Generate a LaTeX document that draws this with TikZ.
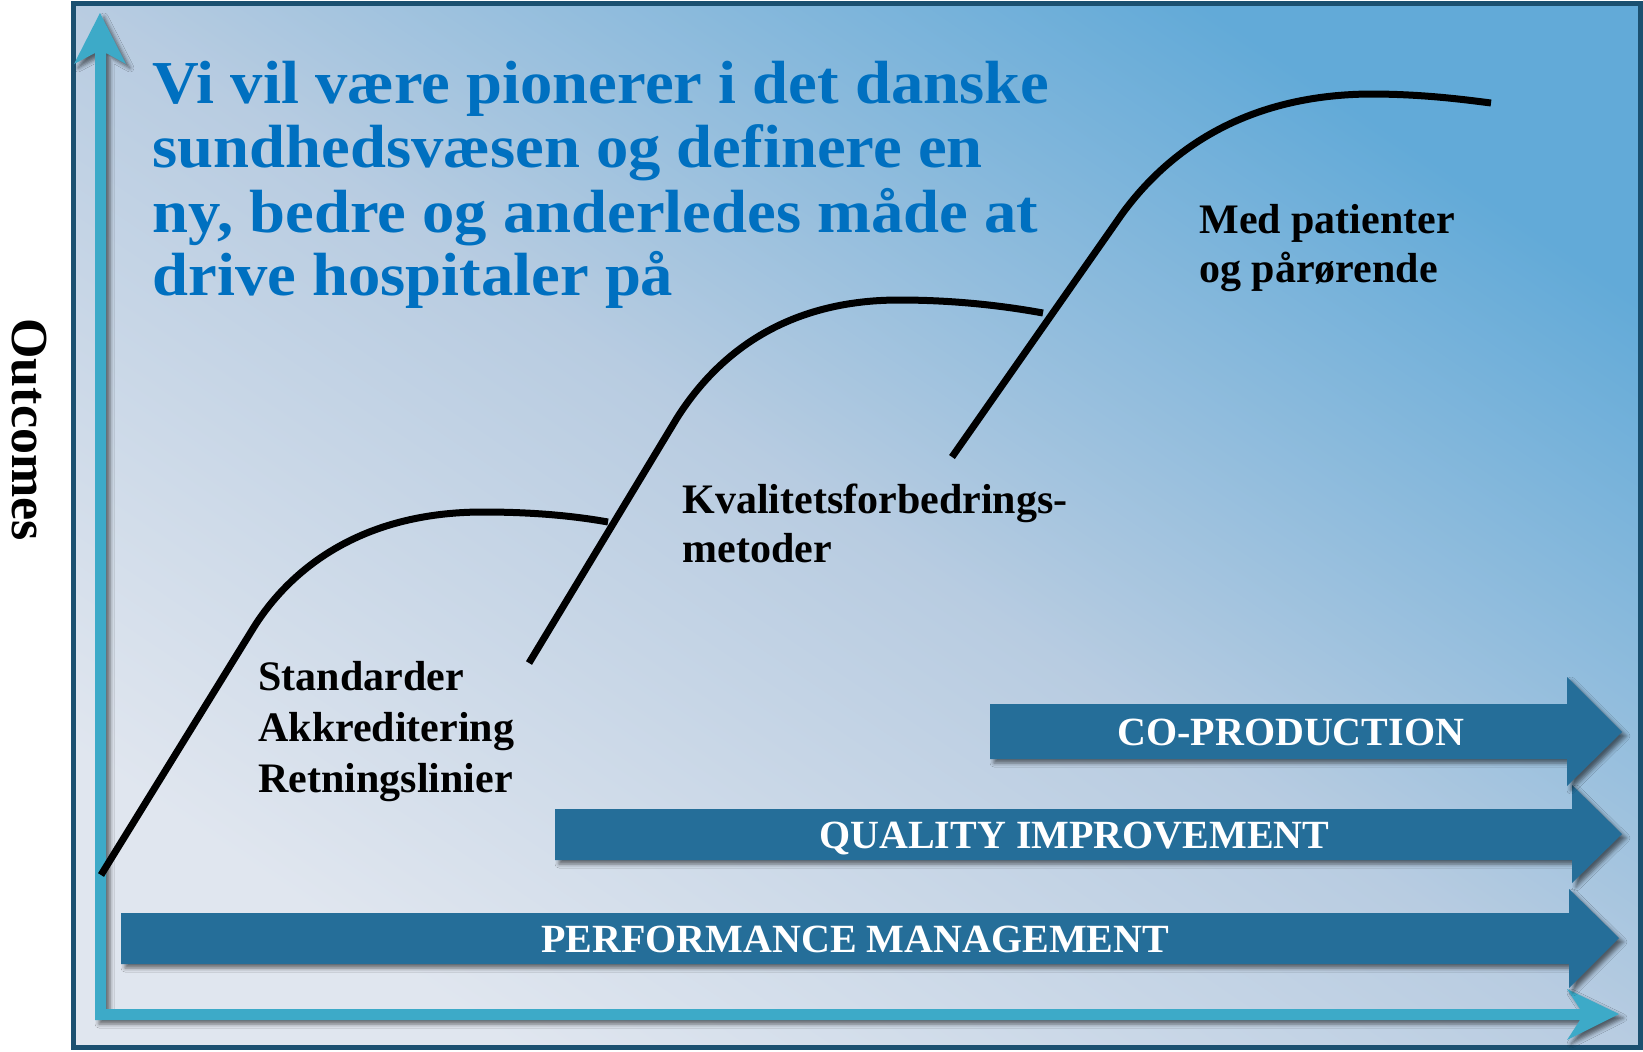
\documentclass[tikz,border=0pt]{standalone}
\usepackage{fontspec}
\setmainfont{Liberation Serif}
\newfontfamily\headfont{Liberation Serif}[FakeStretch=1.06]
\usetikzlibrary{shadows.blur}
\definecolor{axiscol}{RGB}{61,170,200}
\definecolor{arrowcol}{RGB}{37,110,153}
\definecolor{framecol}{RGB}{27,80,112}
\definecolor{headcol}{RGB}{0,112,192}
\definecolor{bglight}{RGB}{224,230,239}
\definecolor{bgmid}{RGB}{184,204,225}
\definecolor{bgdark}{RGB}{98,170,216}
\begin{document}
\begin{tikzpicture}[x=0.5pt,y=-0.5pt,
  curve/.style={line width=3.5pt, black},
  softshadow/.style={blur shadow={shadow xshift=2pt, shadow yshift=-2pt, shadow blur radius=2pt, shadow opacity=55}},
  blockarrow/.style={fill=arrowcol, softshadow},
  axisarrow/.style={fill=axiscol, softshadow},
  arrowlabel/.style={font=\bfseries\fontsize{20}{24}\selectfont, text=white, inner sep=0pt, anchor=base west},
  blacklabel/.style={font=\bfseries\fontsize{21}{25}\selectfont, text=black, inner sep=0pt, anchor=base west},
  headline/.style={font=\headfont\bfseries\fontsize{30.5}{32}\selectfont, text=headcol, inner sep=0pt, anchor=base west},
]
\useasboundingbox (0,0) rectangle (1643,1051);
\fill[white] (0,0) rectangle (1643,1051);
% background panel
\shade[top color=bgdark, bottom color=bglight, middle color=bgmid, shading angle=-34] (73,3) rectangle (1640,1047);
\draw[framecol, line width=2.5pt] (73,3) rectangle (1640,1047);

% axes (L-shaped arrow pair)
\fill[axisarrow] (95,1020) -- (95,53) -- (74,64) -- (100,13) -- (126,64) -- (106,53)
  -- (106,1009) -- (1580,1009) -- (1567,989) -- (1619,1014) -- (1567,1040) -- (1580,1020) -- cycle;

% block arrows
\fill[blockarrow] (121,913) -- (1569,913) -- (1569,889) -- (1619,938) -- (1569,988) -- (1569,964) -- (121,964) -- cycle;
\fill[blockarrow] (555,809) -- (1572,809) -- (1572,785) -- (1622,834) -- (1572,883) -- (1572,860) -- (555,860) -- cycle;
\fill[blockarrow] (990,704) -- (1567,704) -- (1567,677) -- (1622,732) -- (1567,786) -- (1567,759) -- (990,759) -- cycle;

\node[arrowlabel] (pm) at (541,952) {PERFORMANCE MANAGEMENT};
\node[arrowlabel] (qi) at (819,848) {QUALITY IMPROVEMENT};
\node[arrowlabel] (cp) at (1117,745) {CO-PRODUCTION};

% S-curves
\draw[curve] (101,875) -- (254,627) .. controls (290,570) and (360,512) .. (483,512)
  .. controls (540,512) and (580,517) .. (608,522);
\draw[curve] (529,663) -- (677,418) .. controls (720,350) and (790,300) .. (899,300)
  .. controls (960,300) and (1010,307) .. (1043,313);
\draw[curve] (952,457) -- (1122,214) .. controls (1165,155) and (1240,95) .. (1370,94)
  .. controls (1420,94) and (1460,99) .. (1491,103);

% labels
\node[blacklabel] (s1) at (258,690) {Standarder};
\node[blacklabel] (s2) at (258,741) {Akkreditering};
\node[blacklabel] (s3) at (258,792) {Retningslinier};
\node[blacklabel] (k1) at (682,513) {Kvalitetsforbedrings-};
\node[blacklabel] (k2) at (682,562) {metoder};
\node[blacklabel] (m1) at (1199,233) {Med patienter};
\node[blacklabel] (m2) at (1199,282) {og pårørende};

% heading
\node[headline] (h1) at (152,103) {Vi vil være pionerer i det danske};
\node[headline] (h2) at (152,167) {sundhedsvæsen og definere en};
\node[headline] (h3) at (152,232) {ny, bedre og anderledes måde at};
\node[headline] (h4) at (152,295) {drive hospitaler på};

% y-axis label
\node[font=\bfseries\fontsize{26}{30}\selectfont, inner sep=0pt, anchor=base west, rotate=-90] (out) at (12,318) {Outcomes};
\end{tikzpicture}
\end{document}
